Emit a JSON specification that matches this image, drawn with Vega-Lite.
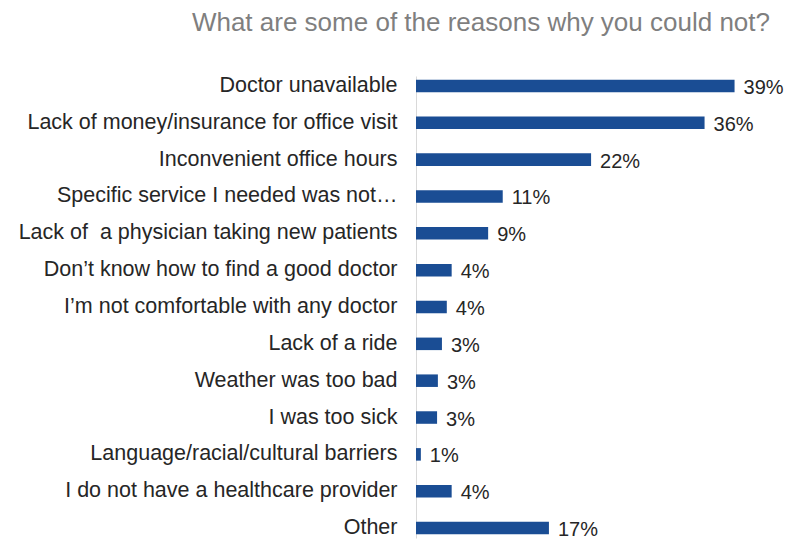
{
  "$schema": "https://vega.github.io/schema/vega-lite/v6.json",
  "autosize": "none",
  "width": 368,
  "height": 462,
  "padding": {"left": 416, "top": 76, "right": 7, "bottom": 1},
  "background": "white",
  "title": {
    "text": "What are some of the reasons why you could not?",
    "anchor": "end",
    "frame": "group",
    "dx": -14,
    "offset": 38,
    "font": "Liberation Sans",
    "fontSize": 26,
    "fontWeight": "normal",
    "color": "#7f7f7f"
  },
  "config": {"view": {"stroke": null}},
  "data": {
    "values": [
      {"reason": "Doctor unavailable", "pct": 39.3, "label": "39%"},
      {"reason": "Lack of money/insurance for office visit", "pct": 35.6, "label": "36%"},
      {"reason": "Inconvenient office hours", "pct": 21.6, "label": "22%"},
      {"reason": "Specific service I needed was not…", "pct": 10.7, "label": "11%"},
      {"reason": "Lack of\u00a0 a physician taking new patients", "pct": 8.9, "label": "9%"},
      {"reason": "Don’t know how to find a good doctor", "pct": 4.4, "label": "4%"},
      {"reason": "I’m not comfortable with any doctor", "pct": 3.8, "label": "4%"},
      {"reason": "Lack of a ride", "pct": 3.2, "label": "3%"},
      {"reason": "Weather was too bad", "pct": 2.7, "label": "3%"},
      {"reason": "I was too sick", "pct": 2.6, "label": "3%"},
      {"reason": "Language/racial/cultural barriers", "pct": 0.6, "label": "1%"},
      {"reason": "I do not have a healthcare provider", "pct": 4.4, "label": "4%"},
      {"reason": "Other", "pct": 16.4, "label": "17%"}
    ]
  },
  "encoding": {
    "y": {
      "field": "reason",
      "type": "nominal",
      "sort": null,
      "scale": {"paddingInner": 0.66, "paddingOuter": 0.1},
      "axis": {
        "title": null,
        "ticks": false,
        "domainColor": "#d9d9d9",
        "domainWidth": 1,
        "labelFont": "Liberation Sans",
        "labelFontSize": 21.5,
        "labelColor": "#262626",
        "labelPadding": 19,
        "labelLimit": 420
      }
    },
    "x": {
      "field": "pct",
      "type": "quantitative",
      "scale": {"domain": [0, 45.4], "nice": false},
      "axis": null
    }
  },
  "layer": [
    {"mark": {"type": "bar", "color": "#1a4d94"}},
    {
      "mark": {
        "type": "text",
        "align": "left",
        "baseline": "middle",
        "dx": 9,
        "dy": 2,
        "font": "Liberation Sans",
        "fontSize": 20,
        "color": "#262626"
      },
      "encoding": {"text": {"field": "label"}}
    }
  ]
}
